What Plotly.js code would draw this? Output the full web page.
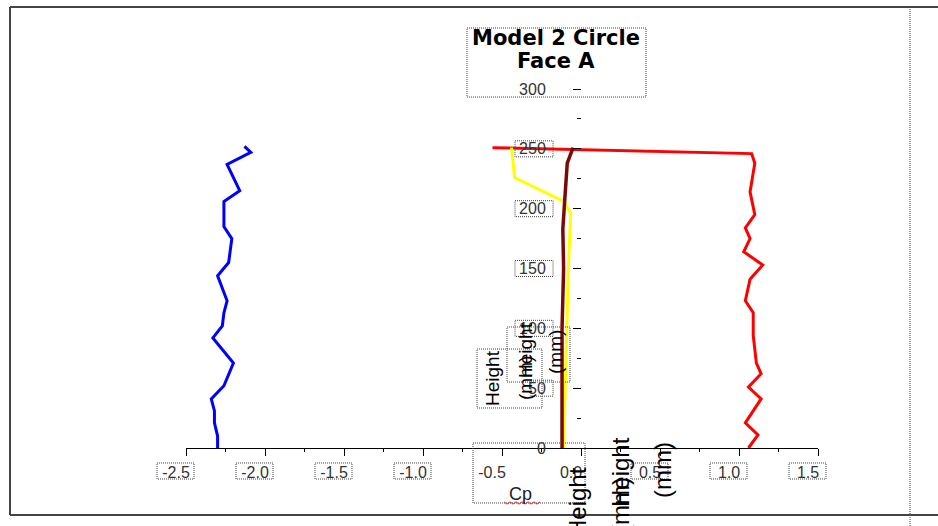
<!DOCTYPE html>
<html>
<head>
<meta charset="utf-8">
<script src="https://cdn.plot.ly/plotly-3.0.1.min.js"></script>
<style>html,body{margin:0;padding:0;background:#fff;}#chart{width:938px;height:526px;}</style>
</head>
<body>
<div id="chart"></div>
<script>
// ---- data ----
const seriesNames = ["Series 1", "Series 2", "Series 3", "Series 4"];

const heightBlue = [0, 10, 21, 31, 41, 52, 71, 92, 102, 113, 123, 133, 144, 155, 175, 185, 206, 215, 237, 247, 252];
const cpBlue     = [-2.30, -2.30, -2.32, -2.32, -2.34, -2.26, -2.20, -2.33, -2.27, -2.26, -2.24, -2.27, -2.30, -2.23, -2.21, -2.26, -2.26, -2.16, -2.24, -2.09, -2.13];

const heightRed = [0, 11, 21, 41, 51, 62, 71, 94, 113, 123, 141, 153, 164, 175, 184, 195, 214, 238, 246, 251];
const cpRed     = [1.06, 1.12, 1.04, 1.14, 1.06, 1.14, 1.11, 1.09, 1.09, 1.04, 1.07, 1.15, 1.03, 1.07, 1.04, 1.10, 1.07, 1.10, 1.08, -0.56];

const heightYellow = [0, 50, 100, 150, 196, 206, 226, 251];
const cpYellow     = [-0.11, -0.10, -0.09, -0.08, -0.065, -0.11, -0.42, -0.44];

const heightBrown = [0, 50, 100, 150, 183, 213, 238, 251];
const cpBrown     = [-0.12, -0.12, -0.12, -0.11, -0.115, -0.10, -0.087, -0.05];

const xTickVals = [-2.5, -2.0, -1.5, -1.0, -0.5, 0.0, 0.5, 1.0, 1.5];
const xTickText = ["-2.5", "-2.0", "-1.5", "-1.0", "-0.5", "0.0", "0.5", "1.0", "1.5"];
const yTickVals = [0, 50, 100, 150, 200, 250, 300];
const yTickText = ["0", "50", "100", "150", "200", "250", "300"];

const titleLine1 = "Model 2 Circle";
const titleLine2 = "Face A";
const xTitle = "Cp";
const yTitleWord1 = "Height";
const yTitleWord2 = "(mm)";

// ---- layout geometry ----
const W = 938, Hh = 526;
const M = {l: 186, r: 120, t: 89, b: 78};
const PW = W - M.l - M.r, PH = Hh - M.t - M.b;
const X = px => (px - M.l) / PW;           // pixel -> paper x
const Y = py => (Hh - M.b - py) / PH;      // pixel -> paper y

const traces = [
  {x: cpBlue, y: heightBlue, name: seriesNames[0], line: {color: "#0000FF", width: 3}},
  {x: cpRed, y: heightRed, name: seriesNames[1], line: {color: "#FF0000", width: 3}},
  {x: cpYellow, y: heightYellow, name: seriesNames[2], line: {color: "#FFFF00", width: 3}},
  {x: cpBrown, y: heightBrown, name: seriesNames[3], line: {color: "#7A0A0A", width: 3.5}}
].map(t => Object.assign({type: "scatter", mode: "lines", hoverinfo: "skip"}, t));

const dotLine = {color: "#444", width: 1, dash: "1px,1px"};
function pxBox(x0, y0, x1, y1) {
  return {type: "rect", xref: "paper", yref: "paper", x0: X(x0), x1: X(x1), y0: Y(y0), y1: Y(y1), line: dotLine, layer: "above"};
}
function pxLine(x0, y0, x1, y1, line) {
  return {type: "line", xref: "paper", yref: "paper", x0: X(x0), x1: X(x1), y0: Y(y0), y1: Y(y1), line: line, layer: "above"};
}

const shapes = [];
// boxes around x tick labels (those not inside the Cp box)
xTickVals.forEach(v => {
  if (v === -0.5 || v === 0.0) return;
  const c = X(M.l + (v - xTickVals[0]) / (xTickVals[xTickVals.length - 1] - xTickVals[0]) * PW);
  shapes.push({type: "rect", xref: "paper", yref: "paper", xsizemode: "pixel", ysizemode: "pixel",
    xanchor: c, yanchor: 0, x0: -29, x1: 8, y0: -15, y1: -31, line: dotLine, layer: "above"});
});
// boxes around y tick labels
yTickVals.forEach(v => {
  if (v === 0 || v === 300) return;
  const wd = v === 50 ? 22 : 38;
  shapes.push({type: "rect", xref: "x", yref: "y", xsizemode: "pixel", ysizemode: "pixel",
    xanchor: 0, yanchor: v, x0: -28 - wd, x1: -28, y0: 8, y1: -8, line: dotLine, layer: "above"});
});
// big dotted boxes
shapes.push(pxBox(467, 28, 646, 97));   // title
shapes.push(pxBox(473, 443, 585, 503)); // Cp
shapes.push(pxBox(477, 349, 542, 408)); // Height 1
shapes.push(pxBox(507, 327, 570, 382)); // Height 2
// borders
shapes.push(pxLine(10, 7, 938, 7, {color: "#444", width: 2}));
shapes.push(pxLine(10, 7, 10, 515, {color: "#444", width: 2}));
shapes.push(pxLine(10, 515, 938, 515, {color: "#444", width: 2}));
shapes.push(pxLine(910, 7, 910, 526, {color: "#444", width: 1, dash: "1px,1px"}));
// red wavy underline under Cp
(function () {
  let p = "";
  for (let i = 0; i <= 12; i++) {
    const px = 504 + i * 3, py = 503 + (i % 2 === 0 ? -1.2 : 1.2);
    p += (i === 0 ? "M" : "L") + X(px) + "," + Y(py);
  }
  shapes.push({type: "path", xref: "paper", yref: "paper", path: p, line: {color: "#E02020", width: 1}, layer: "above"});
})();

function vText(text, px, py, size) {
  return {text: text, xref: "paper", yref: "paper", x: X(px), y: Y(py), showarrow: false,
    textangle: -90, xanchor: "center", yanchor: "middle",
    font: {family: "Liberation Sans, Arial, sans-serif", size: size, color: "#000"}};
}

const titleFont = {family: "DejaVu Sans, sans-serif", size: 21, color: "#000", weight: "bold"};

const annotations = [
  {text: "<b>" + titleLine2 + "</b>", xref: "paper", yref: "paper", x: X(556), y: Y(61), showarrow: false,
   xanchor: "center", yanchor: "middle", font: titleFont},
  vText(yTitleWord1, 492, 378, 19),
  vText(yTitleWord2, 525, 378, 19),
  vText(yTitleWord1, 525, 350, 19),
  vText(yTitleWord2, 555, 352, 19),
  vText(yTitleWord1, 577, 502, 24),
  vText(yTitleWord2, 620, 505, 24),
  vText(yTitleWord1, 620, 472, 24),
  vText(yTitleWord2, 662, 470, 24),
  {text: xTitle, xref: "paper", yref: "paper", x: X(520), y: Y(494), showarrow: false,
   xanchor: "center", yanchor: "middle", font: {family: "Liberation Sans, Arial, sans-serif", size: 18, color: "#222"}}
];

const tickFont = {family: "Liberation Sans, Arial, sans-serif", size: 16, color: "#333"};

const layout = {
  width: W, height: Hh,
  margin: M,
  paper_bgcolor: "#fff", plot_bgcolor: "rgba(0,0,0,0)",
  showlegend: false,
  title: {text: "<b>" + titleLine1 + "</b>", x: 556 / W, xanchor: "center", xref: "container",
          y: 1 - 38 / Hh, yanchor: "middle", yref: "container", font: titleFont},
  xaxis: {range: [-2.5, 1.5], showgrid: false, zeroline: false, showline: true, linecolor: "#000", linewidth: 1,
          ticks: "outside", ticklen: 7, tickcolor: "#000", tickwidth: 1,
          tickmode: "array", tickvals: xTickVals, ticktext: xTickText, tickfont: tickFont,
          ticklabelshift: -10, ticklabelstandoff: 3,
          minor: {dtick: 0.25, ticks: "outside", ticklen: 3, tickcolor: "#000"}},
  yaxis: {range: [0, 300], anchor: "free", position: 0.625, side: "left",
          showgrid: false, zeroline: false, showline: false,
          ticks: "outside", ticklen: 8, tickcolor: "#000", tickwidth: 1,
          tickmode: "array", tickvals: yTickVals, ticktext: yTickText, tickfont: tickFont,
          ticklabelstandoff: 24,
          minor: {dtick: 25, ticks: "outside", ticklen: 4, tickcolor: "#000"}},
  shapes: shapes,
  annotations: annotations
};

Plotly.newPlot("chart", traces, layout, {displayModeBar: false, staticPlot: true});
</script>
</body>
</html>
